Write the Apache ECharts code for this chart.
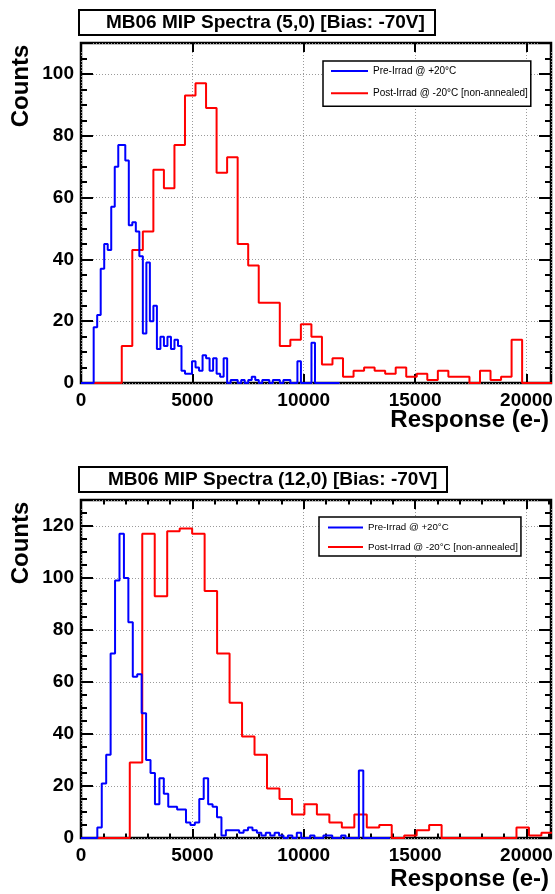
<!DOCTYPE html>
<html>
<head>
<meta charset="utf-8">
<script src="https://cdn.jsdelivr.net/npm/echarts@6/dist/echarts.min.js"></script>
<style>
html,body{margin:0;padding:0;background:#fff;}
#chart{width:555px;height:894px;}
</style>
</head>
<body>
<div id="chart"></div>
<script>
// ---------- texts ----------
const panelTitles = ['MB06 MIP Spectra (5,0) [Bias: -70V]', 'MB06 MIP Spectra (12,0) [Bias: -70V]'];
const seriesNames = ['Pre-Irrad @ +20°C', 'Post-Irrad @ -20°C [non-annealed]'];
const yTitle = 'Counts';
const xTitle = 'Response (e-)';

// ---------- axes ----------
const xMax = 21100;
const xMajor = 5000;
const xMinor = 1000;
const yMajor = 20;
const yMinor = 5;
const yMaxPanel = [110, 130];

// ---------- panel (5,0) ----------
const pre50Start = 569, pre50Width = 157.7;
const pre50Counts = [
  18, 22, 37, 45, 43, 57, 70, 77, 77, 72,
  51, 52, 49, 41, 16, 39, 20, 25, 11, 15,
  12, 15, 11, 14, 12, 4, 3, 3, 7, 5,
  4, 9, 8, 4, 8, 3, 2, 8, 0, 1,
  1, 0, 1, 0, 1, 2, 1, 0, 1, 1,
  0, 1, 1, 0, 1, 1, 0, 0, 7, 0,
  0, 0, 13, 0, 0, 0, 0, 0, 0, 0
];
const post50Start = 1830, post50Width = 473;
const post50Counts = [
  12, 43, 49, 69, 63, 77, 93, 97, 89, 68,
  73, 45, 38, 26, 26, 12, 14, 19, 15, 6,
  8, 2, 4, 5, 4, 3, 5, 2, 3, 1,
  4, 2, 2, 0, 4, 1, 2, 14, 0, 0, 0
];

// ---------- panel (12,0) ----------
const pre120Start = 733, pre120Width = 199;
const pre120Counts = [
  4, 21, 32, 71, 99, 117, 100, 83, 62, 63,
  48, 30, 25, 13, 23, 17, 12, 12, 11, 11,
  6, 5, 6, 15, 23, 13, 12, 8, 1, 3,
  3, 3, 2, 3, 4, 3, 2, 1, 2, 1,
  2, 1, 0, 1, 0, 2, 0, 0, 1, 0,
  0, 1, 1, 0, 0, 1, 0, 0, 0, 26,
  0, 0, 0, 0, 0, 0
];
const post120Start = 2190, post120Width = 560;
const post120Counts = [
  29, 117, 93, 118, 119, 117, 95, 71, 52, 39,
  32, 19, 15, 9, 13, 9, 6, 4, 9, 4,
  5, 0, 1, 3, 5, 0, 0, 0, 0, 0,
  0, 4, 1, 2, 2
];

// histogram -> step points (bin left edges), starting from the axis origin
function histPoints(start, width, counts) {
  const pts = [[0, 0]];
  counts.forEach((c, i) => pts.push([start + i * width, c]));
  pts.push([start + counts.length * width, 0]);
  return pts;
}

const FONT = 'Liberation Sans, Arial, Helvetica, sans-serif';
const grids = [
  { left: 81, top: 43, width: 470, height: 340 },
  { left: 81, top: 500, width: 470, height: 338 }
];

const xAxes = [];
const yAxes = [];
function addX(g, pos, interval, len, labels, split) {
  xAxes.push({
    type: 'value', gridIndex: g, position: pos, min: 0, max: xMax, interval: interval,
    axisLine: { show: false, onZero: false },
    axisTick: { show: true, inside: true, length: len, lineStyle: { color: '#000', width: 2 } },
    axisLabel: labels ? {
      show: true, margin: 8, color: '#000', fontFamily: FONT, fontWeight: 'bold', fontSize: 19,
      formatter: v => (v % xMajor === 0 ? String(v) : '')
    } : { show: false },
    splitLine: split ? { show: true, lineStyle: { color: '#9a9a9a', width: 1, type: [1, 2] } } : { show: false },
    minorTick: { show: false }
  });
  return xAxes.length - 1;
}
function addY(g, pos, interval, max, len, labels, split) {
  yAxes.push({
    type: 'value', gridIndex: g, position: pos, min: 0, max: max, interval: interval,
    axisLine: { show: false, onZero: false },
    axisTick: { show: true, inside: true, length: len, lineStyle: { color: '#000', width: 2 } },
    axisLabel: labels ? {
      show: true, margin: 7, color: '#000', fontFamily: FONT, fontWeight: 'bold', fontSize: 19,
      formatter: v => (v % yMajor === 0 ? String(v) : '')
    } : { show: false },
    splitLine: split ? { show: true, lineStyle: { color: '#9a9a9a', width: 1, type: [1, 2] } } : { show: false },
    minorTick: { show: false }
  });
  return yAxes.length - 1;
}

// panel 1 axes
const x0 = addX(0, 'bottom', xMajor, 9, true, true);
addX(0, 'top', xMajor, 9, false, false);
const y0 = addY(0, 'left', yMajor, yMaxPanel[0], 12, true, true);
addY(0, 'left', yMinor, yMaxPanel[0], 6, false, false);
addY(0, 'right', yMajor, yMaxPanel[0], 12, false, false);
addY(0, 'right', yMinor, yMaxPanel[0], 6, false, false);
// panel 2 axes
const x1 = addX(1, 'bottom', xMajor, 9, true, true);
addX(1, 'top', xMajor, 9, false, false);
addX(1, 'bottom', xMinor, 4.5, false, false);
addX(1, 'top', xMinor, 4.5, false, false);
const y1 = addY(1, 'left', yMajor, yMaxPanel[1], 12, true, true);
addY(1, 'left', yMinor, yMaxPanel[1], 6, false, false);
addY(1, 'right', yMajor, yMaxPanel[1], 12, false, false);
addY(1, 'right', yMinor, yMaxPanel[1], 6, false, false);

function histSeries(name, color, xi, yi, pts, z) {
  return {
    name: name, type: 'line', step: 'end', xAxisIndex: xi, yAxisIndex: yi,
    data: pts, symbol: 'none', showSymbol: false, z: z,
    lineStyle: { color: color, width: 2 }, itemStyle: { color: color },
    emphasis: { disabled: true }
  };
}

const titleStyle = { fontFamily: FONT, fontWeight: 'bold', fontSize: 19, color: '#000', lineHeight: 21 };

const option = {
  animation: false,
  backgroundColor: '#fff',
  title: [
    { text: panelTitles[0], left: 79, top: 10, padding: [2, 10, 2, 27], borderColor: '#000', borderWidth: 2, textStyle: titleStyle },
    { text: panelTitles[1], left: 79, top: 467, padding: [2, 10, 2, 29], borderColor: '#000', borderWidth: 2, textStyle: titleStyle }
  ],
  legend: [
    { data: seriesNames, orient: 'vertical', left: 323, top: 61, padding: [4, 3, 7, 8], itemGap: 10.3, itemWidth: 37, itemHeight: 2,
      icon: 'rect', borderColor: '#000', borderWidth: 1.5, backgroundColor: '#fff', selectedMode: false,
      textStyle: { fontFamily: FONT, fontSize: 10, color: '#000', lineHeight: 12 } },
    { data: seriesNames, orient: 'vertical', left: 319, top: 517, padding: [4.5, 3, 3, 9], itemGap: 7.4, itemWidth: 35, itemHeight: 2,
      icon: 'rect', borderColor: '#000', borderWidth: 1.5, backgroundColor: '#fff', selectedMode: false,
      textStyle: { fontFamily: FONT, fontSize: 9.7, color: '#000', lineHeight: 12 } }
  ],
  grid: grids.map(g => Object.assign({ show: true, borderColor: '#000', borderWidth: 2.5, backgroundColor: 'transparent', containLabel: false, outerBoundsMode: 'none' }, g)),
  xAxis: xAxes,
  yAxis: yAxes,
  series: [
    histSeries(seriesNames[1], '#ff0000', x0, y0, histPoints(post50Start, post50Width, post50Counts), 2),
    histSeries(seriesNames[0], '#0000ff', x0, y0, histPoints(pre50Start, pre50Width, pre50Counts), 3),
    histSeries(seriesNames[1], '#ff0000', x1, y1, histPoints(post120Start, post120Width, post120Counts), 2),
    histSeries(seriesNames[0], '#0000ff', x1, y1, histPoints(pre120Start, pre120Width, pre120Counts), 3)
  ],
  graphic: [
    { type: 'text', x: 21, y: 86, rotation: Math.PI / 2, style: { text: yTitle, font: 'bold 24px ' + FONT, fill: '#000', align: 'center', verticalAlign: 'middle' } },
    { type: 'text', x: 21, y: 543, rotation: Math.PI / 2, style: { text: yTitle, font: 'bold 24px ' + FONT, fill: '#000', align: 'center', verticalAlign: 'middle' } },
    { type: 'text', x: 549, y: 420, style: { text: xTitle, font: 'bold 24px ' + FONT, fill: '#000', align: 'right', verticalAlign: 'middle' } },
    { type: 'text', x: 549, y: 879, style: { text: xTitle, font: 'bold 24px ' + FONT, fill: '#000', align: 'right', verticalAlign: 'middle' } }
  ]
};

const chart = echarts.init(document.getElementById('chart'), null, { renderer: 'canvas' });
chart.setOption(option);
</script>
</body>
</html>
